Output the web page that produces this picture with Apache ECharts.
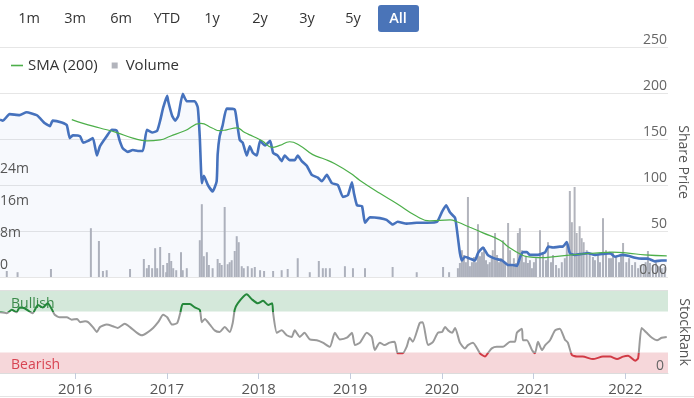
<!DOCTYPE html>
<html>
<head>
<meta charset="utf-8">
<script src="https://cdn.jsdelivr.net/npm/echarts@6/dist/echarts.min.js"></script>
<style>
  html, body { margin: 0; padding: 0; background: #fff; }
  #chart { width: 694px; height: 398px; }
</style>
</head>
<body>
<div id="chart"></div>
<script>
// share price (close)
var priceData = [
  ['2015-03-08', 171], ['2015-03-20', 170], ['2015-04-15', 177], ['2015-05-25', 176],
  ['2015-06-22', 179], ['2015-08-01', 176], ['2015-08-13', 173], ['2015-09-03', 167],
  ['2015-09-23', 164], ['2015-10-04', 170], ['2015-11-09', 168], ['2015-11-29', 165],
  ['2015-12-11', 151], ['2015-12-23', 154], ['2016-01-21', 153], ['2016-02-02', 146],
  ['2016-02-22', 148], ['2016-03-12', 151], ['2016-03-28', 132], ['2016-04-09', 142],
  ['2016-05-06', 153], ['2016-05-26', 160], ['2016-06-15', 159], ['2016-06-27', 148],
  ['2016-07-09', 140], ['2016-07-29', 136], ['2016-08-18', 138], ['2016-09-07', 137],
  ['2016-09-27', 137], ['2016-10-13', 160], ['2016-11-03', 157], ['2016-11-23', 159],
  ['2016-12-05', 170], ['2016-12-17', 184], ['2017-01-02', 197], ['2017-01-06', 191],
  ['2017-01-22', 175], ['2017-02-03', 170], ['2017-02-15', 175], ['2017-03-05', 199],
  ['2017-03-21', 191], ['2017-04-22', 191], ['2017-05-04', 184], ['2017-05-12', 151],
  ['2017-05-20', 102], ['2017-05-28', 110], ['2017-06-13', 100], ['2017-07-02', 93],
  ['2017-07-18', 104], ['2017-07-22', 133], ['2017-07-30', 153], ['2017-08-11', 165],
  ['2017-08-27', 183], ['2017-09-28', 182], ['2017-10-06', 170], ['2017-10-18', 149],
  ['2017-10-30', 146], ['2017-11-15', 132], ['2017-11-27', 142], ['2017-12-09', 135],
  ['2017-12-25', 132], ['2018-01-07', 148], ['2018-01-27', 143], ['2018-02-16', 148],
  ['2018-02-28', 135], ['2018-03-18', 132], ['2018-04-03', 126], ['2018-04-15', 132],
  ['2018-05-05', 127], ['2018-05-25', 127], ['2018-06-06', 132], ['2018-06-22', 126],
  ['2018-07-12', 121], ['2018-08-01', 111], ['2018-08-25', 108], ['2018-09-10', 104],
  ['2018-09-30', 111], ['2018-10-20', 102], ['2018-11-13', 100], ['2018-12-03', 87],
  ['2018-12-23', 89], ['2019-01-08', 103], ['2019-01-16', 91], ['2019-01-28', 78],
  ['2019-02-17', 77], ['2019-03-01', 59], ['2019-03-21', 65], ['2019-04-29', 64],
  ['2019-05-26', 62], ['2019-06-19', 57], ['2019-07-09', 60], ['2019-08-14', 58],
  ['2019-09-23', 59], ['2019-11-03', 59], ['2019-12-13', 60], ['2020-01-02', 71],
  ['2020-01-18', 78], ['2020-02-03', 70], ['2020-02-23', 64], ['2020-03-05', 43],
  ['2020-03-13', 26], ['2020-03-21', 18], ['2020-04-02', 22], ['2020-04-22', 20],
  ['2020-05-12', 18], ['2020-05-24', 26], ['2020-06-13', 32], ['2020-07-02', 24],
  ['2020-07-31', 20], ['2020-08-28', 18], ['2020-09-21', 13], ['2020-10-10', 13],
  ['2020-10-26', 12], ['2020-11-07', 21], ['2020-11-19', 27], ['2020-12-05', 27],
  ['2020-12-17', 24], ['2021-01-18', 24], ['2021-02-16', 27], ['2021-02-28', 33],
  ['2021-03-19', 32], ['2021-04-15', 33], ['2021-04-27', 33], ['2021-05-13', 38],
  ['2021-05-25', 26], ['2021-06-13', 24], ['2021-07-11', 25], ['2021-08-05', 26],
  ['2021-09-02', 24], ['2021-09-30', 25], ['2021-11-01', 26], ['2021-11-21', 22],
  ['2021-12-19', 24], ['2022-01-12', 23], ['2022-02-09', 21], ['2022-03-07', 20],
  ['2022-04-01', 20], ['2022-04-29', 17], ['2022-05-26', 18], ['2022-06-15', 18]
];

// 200 day simple moving average
var smaData = [
  ['2015-12-19', 171], ['2016-02-02', 167], ['2016-04-09', 162], ['2016-06-15', 157],
  ['2016-08-18', 151], ['2016-10-13', 148], ['2016-12-05', 149], ['2017-01-14', 153],
  ['2017-03-13', 159], ['2017-05-16', 167], ['2017-06-30', 162], ['2017-07-30', 159],
  ['2017-08-27', 160], ['2017-10-06', 162], ['2017-11-07', 157], ['2017-12-09', 153],
  ['2018-01-15', 148], ['2018-02-24', 141], ['2018-03-26', 143], ['2018-05-05', 147],
  ['2018-06-14', 143], ['2018-08-05', 133], ['2018-09-22', 128], ['2018-11-01', 123],
  ['2019-01-01', 113], ['2019-02-09', 105], ['2019-04-29', 91], ['2019-07-05', 80],
  ['2019-09-23', 66], ['2019-11-14', 61], ['2020-02-03', 62], ['2020-03-01', 60],
  ['2020-04-22', 54], ['2020-06-13', 48], ['2020-08-20', 40], ['2020-09-21', 33],
  ['2020-11-15', 24], ['2020-12-09', 22], ['2021-01-18', 21], ['2021-04-23', 23],
  ['2021-07-11', 25], ['2021-09-02', 26], ['2021-11-09', 27], ['2022-01-12', 26],
  ['2022-03-19', 24], ['2022-06-15', 23]
];

// volume, millions
var volumeData = [
  ['2015-04-04', 1.5], ['2015-05-17', 1.2], ['2015-09-27', 2.0], ['2016-03-04', 12.2],
  ['2016-04-05', 9.0], ['2016-04-21', 1.5], ['2016-05-06', 1.7], ['2016-08-07', 2.0],
  ['2016-10-01', 4.5], ['2016-10-13', 2.2], ['2016-10-21', 3.0], ['2016-11-03', 2.2],
  ['2016-11-15', 7.2], ['2016-11-23', 2.2], ['2016-12-05', 7.5], ['2016-12-17', 3.0],
  ['2016-12-29', 1.2], ['2017-01-02', 3.5], ['2017-01-10', 6.0], ['2017-01-18', 4.0],
  ['2017-01-26', 2.2], ['2017-02-07', 1.7], ['2017-02-26', 6.2], ['2017-03-05', 1.7],
  ['2017-03-21', 2.2], ['2017-05-12', 9.2], ['2017-05-20', 18.2], ['2017-05-28', 5.2],
  ['2017-06-09', 6.2], ['2017-06-17', 3.0], ['2017-07-02', 2.2], ['2017-07-22', 4.5],
  ['2017-07-30', 3.5], ['2017-08-07', 3.0], ['2017-08-19', 17.5], ['2017-08-31', 3.2],
  ['2017-09-08', 3.7], ['2017-09-16', 4.2], ['2017-09-28', 6.5], ['2017-10-06', 10.2],
  ['2017-10-14', 8.7], ['2017-10-26', 2.7], ['2017-11-03', 2.2], ['2017-11-19', 2.7],
  ['2017-12-05', 2.2], ['2017-12-17', 2.5], ['2018-01-07', 1.7], ['2018-01-23', 1.5],
  ['2018-02-28', 1.5], ['2018-04-03', 1.7], ['2018-04-27', 2.0], ['2018-06-06', 4.7],
  ['2018-07-24', 1.2], ['2018-08-29', 4.0], ['2018-09-14', 2.2], ['2018-09-26', 2.2],
  ['2018-10-12', 2.2], ['2018-12-11', 2.7], ['2019-01-12', 2.2], ['2019-03-01', 2.2],
  ['2019-06-19', 2.5], ['2019-09-23', 1.2], ['2020-01-06', 2.5], ['2020-01-30', 1.2],
  ['2020-03-05', 2.2], ['2020-03-13', 3.5], ['2020-03-21', 6.7], ['2020-03-29', 5.5],
  ['2020-04-06', 3.7], ['2020-04-14', 20.0], ['2020-04-22', 2.7], ['2020-04-30', 3.7],
  ['2020-05-08', 5.0], ['2020-05-16', 3.7], ['2020-05-24', 13.2], ['2020-06-01', 5.2],
  ['2020-06-09', 6.2], ['2020-06-17', 7.5], ['2020-06-25', 4.2], ['2020-07-02', 3.2],
  ['2020-07-10', 3.7], ['2020-07-18', 4.7], ['2020-07-22', 6.7], ['2020-07-31', 11.0],
  ['2020-08-08', 5.5], ['2020-08-16', 3.7], ['2020-08-24', 4.7], ['2020-09-01', 9.2],
  ['2020-09-09', 3.7], ['2020-09-21', 13.5], ['2020-09-29', 6.7], ['2020-10-06', 3.0],
  ['2020-10-14', 4.7], ['2020-10-22', 3.5], ['2020-10-30', 11.0], ['2020-11-07', 12.2],
  ['2020-11-15', 6.7], ['2020-11-23', 3.7], ['2020-12-01', 5.2], ['2020-12-09', 3.5],
  ['2020-12-17', 4.2], ['2020-12-25', 2.2], ['2021-01-02', 3.7], ['2021-01-10', 4.7],
  ['2021-01-26', 11.7], ['2021-02-07', 6.0], ['2021-02-19', 4.2], ['2021-02-27', 8.7],
  ['2021-03-11', 3.7], ['2021-03-19', 5.5], ['2021-03-31', 3.0], ['2021-04-11', 2.2],
  ['2021-04-23', 3.7], ['2021-05-05', 4.7], ['2021-05-13', 8.0], ['2021-05-25', 21.5],
  ['2021-06-02', 13.7], ['2021-06-13', 22.5], ['2021-06-21', 11.0], ['2021-06-29', 5.5],
  ['2021-07-03', 12.7], ['2021-07-11', 9.7], ['2021-07-19', 8.7], ['2021-07-31', 6.7],
  ['2021-08-12', 6.0], ['2021-08-25', 5.0], ['2021-09-02', 4.2], ['2021-09-14', 5.5],
  ['2021-09-22', 3.7], ['2021-10-04', 14.7], ['2021-10-16', 6.7], ['2021-10-28', 4.7],
  ['2021-11-05', 4.7], ['2021-11-13', 6.2], ['2021-11-25', 5.0], ['2021-12-07', 3.7],
  ['2021-12-15', 5.5], ['2021-12-23', 8.5], ['2022-01-05', 3.7], ['2022-01-16', 4.7],
  ['2022-01-28', 3.0], ['2022-02-09', 3.7], ['2022-02-21', 2.2], ['2022-03-03', 3.0],
  ['2022-03-15', 3.2], ['2022-03-23', 3.7], ['2022-04-01', 6.5], ['2022-04-09', 3.5],
  ['2022-04-21', 3.0], ['2022-05-03', 3.7], ['2022-05-15', 2.7], ['2022-05-26', 2.2],
  ['2022-06-07', 2.5]
];

// StockRank 0-100
var rankData = [
  ['2015-03-08', 74], ['2015-04-04', 73], ['2015-04-24', 77], ['2015-05-13', 74],
  ['2015-05-25', 80], ['2015-06-14', 79], ['2015-07-16', 73], ['2015-08-06', 83],
  ['2015-08-25', 80], ['2015-09-14', 85], ['2015-09-30', 78], ['2015-10-12', 71],
  ['2015-11-01', 68], ['2015-11-29', 68], ['2015-12-19', 65], ['2016-01-09', 66],
  ['2016-01-21', 62], ['2016-02-10', 63], ['2016-02-22', 62], ['2016-03-12', 56],
  ['2016-03-28', 50], ['2016-04-09', 56], ['2016-05-06', 59], ['2016-05-31', 57],
  ['2016-06-19', 55], ['2016-07-17', 60], ['2016-08-07', 56], ['2016-09-04', 49],
  ['2016-09-23', 46], ['2016-10-13', 49], ['2016-11-07', 55], ['2016-11-27', 62],
  ['2016-12-17', 71], ['2017-01-02', 68], ['2017-01-22', 59], ['2017-02-11', 61],
  ['2017-02-23', 73], ['2017-03-05', 84], ['2017-04-02', 84], ['2017-04-22', 80],
  ['2017-05-12', 77], ['2017-05-20', 62], ['2017-06-01', 66], ['2017-06-21', 59],
  ['2017-07-10', 52], ['2017-07-30', 50], ['2017-08-19', 56], ['2017-09-08', 50],
  ['2017-09-20', 61], ['2017-09-28', 77], ['2017-10-10', 85], ['2017-11-15', 96],
  ['2017-12-05', 90], ['2017-12-29', 85], ['2018-01-19', 88], ['2018-02-08', 83],
  ['2018-02-24', 85], ['2018-02-28', 73], ['2018-03-15', 49], ['2018-04-03', 52],
  ['2018-04-23', 46], ['2018-05-13', 44], ['2018-05-25', 52], ['2018-06-14', 44],
  ['2018-07-03', 49], ['2018-07-24', 41], ['2018-08-21', 40], ['2018-09-14', 37],
  ['2018-10-12', 32], ['2018-11-01', 49], ['2018-11-21', 41], ['2018-12-19', 43],
  ['2019-01-08', 49], ['2019-01-20', 34], ['2019-02-09', 37], ['2019-03-08', 49],
  ['2019-03-28', 44], ['2019-04-09', 28], ['2019-04-29', 37], ['2019-05-18', 34],
  ['2019-06-07', 37], ['2019-06-27', 38], ['2019-07-09', 24], ['2019-07-29', 24],
  ['2019-08-14', 32], ['2019-08-26', 43], ['2019-09-07', 38], ['2019-10-05', 61],
  ['2019-10-17', 62], ['2019-11-07', 34], ['2019-11-27', 38], ['2019-12-16', 49],
  ['2020-01-02', 50], ['2020-01-14', 56], ['2020-01-26', 52], ['2020-02-11', 49],
  ['2020-02-23', 55], ['2020-03-13', 37], ['2020-04-02', 30], ['2020-04-14', 34],
  ['2020-05-04', 37], ['2020-06-01', 24], ['2020-06-21', 20], ['2020-07-02', 24],
  ['2020-07-18', 30], ['2020-08-07', 32], ['2020-09-01', 32], ['2020-09-29', 38],
  ['2020-10-18', 38], ['2020-10-26', 49], ['2020-11-15', 54], ['2020-11-19', 40],
  ['2020-12-05', 40], ['2020-12-25', 28], ['2021-01-06', 24], ['2021-01-18', 38],
  ['2021-02-03', 28], ['2021-02-16', 34], ['2021-03-07', 40], ['2021-03-27', 52],
  ['2021-04-15', 54], ['2021-05-05', 41], ['2021-05-17', 37], ['2021-06-02', 22],
  ['2021-06-22', 20], ['2021-07-15', 20], ['2021-08-25', 17], ['2021-10-04', 20],
  ['2021-11-01', 20], ['2021-11-29', 17], ['2021-12-23', 20], ['2022-01-12', 21],
  ['2022-02-09', 15], ['2022-02-21', 18], ['2022-03-07', 55], ['2022-03-27', 49],
  ['2022-04-17', 43], ['2022-05-07', 40], ['2022-05-26', 43], ['2022-06-15', 44]
];

var yearTicks = [2016, 2017, 2018, 2019, 2020, 2021, 2022];
var rangeButtons = ['1m', '3m', '6m', 'YTD', '1y', '2y', '3y', '5y', 'All'];
var buttonCenters = [29, 75, 121, 167, 212, 260, 307, 353, 398];

var font = '"Open Sans", "Noto Sans", sans-serif';

function ts(s) {
  var p = s.split('-');
  return +new Date(+p[0], +p[1] - 1, +p[2]);
}
function toSeries(arr) {
  return arr.map(function (d) { return [ts(d[0]), d[1]]; });
}
var xMin = ts('2015-03-08');
var xMax = ts('2022-06-20');
var yearValues = yearTicks.map(function (y) { return +new Date(y, 0, 1); });

var chart = echarts.init(document.getElementById('chart'));

// range selector as plain graphics
var buttons = rangeButtons.map(function (t, i) {
  var active = t === 'All';
  var els = [];
  if (active) {
    els.push({
      type: 'rect',
      shape: { x: buttonCenters[i] - 20, y: 5, width: 41, height: 27, r: 3 },
      style: { fill: '#4a74b8' }
    });
  }
  els.push({
    type: 'text',
    style: {
      x: buttonCenters[i], y: 18.5, text: t,
      fill: active ? '#fff' : '#333',
      font: (active ? '600 ' : '') + '14.5px ' + font,
      align: 'center', verticalAlign: 'middle'
    }
  });
  return { type: 'group', children: els };
});

var priceLabel = function (v) { return v === 0 ? '0.00' : String(v); };

var option = {
  animation: false,
  textStyle: { fontFamily: font },
  grid: [
    { left: 0, right: 26, top: 47, height: 230, outerBoundsMode: 'none' },
    { left: 0, right: 26, top: 291, height: 82, outerBoundsMode: 'none' }
  ],
  legend: {
    left: 6, top: 53,
    itemWidth: 12, itemHeight: 6, itemGap: 14,
    textStyle: { fontSize: 15, color: '#333', fontFamily: font },
    data: [
      { name: 'SMA (200)', icon: 'path://M0,0 L12,0 L12,1.6 L0,1.6 Z' },
      { name: 'Volume', icon: 'path://M0,0 L6,0 L6,6 L0,6 Z' }
    ],
    selectedMode: false
  },
  xAxis: [
    {
      type: 'value', gridIndex: 0, min: xMin, max: xMax,
      axisLine: { show: false }, axisTick: { show: false },
      axisLabel: { show: false }, splitLine: { show: false }
    },
    {
      type: 'value', gridIndex: 1, min: xMin, max: xMax,
      axisLine: { show: true, onZero: false, lineStyle: { color: '#dcdcdc' } },
      axisTick: { show: true, length: 6, customValues: yearValues, lineStyle: { color: '#c4ccdc' } },
      axisLabel: {
        customValues: yearValues, margin: 9,
        color: '#555', fontSize: 15, fontFamily: font,
        formatter: function (v) { return String(new Date(v).getFullYear()); }
      },
      splitLine: { show: false }
    }
  ],
  yAxis: [
    {
      // price scale with gridlines, drawn under the series
      type: 'value', gridIndex: 0, position: 'right', min: 0, max: 250, interval: 50,
      name: 'Share Price', nameLocation: 'middle', nameRotate: -90, nameGap: 8,
      nameTextStyle: { color: '#555', fontSize: 14, fontFamily: font },
      axisLine: { show: false }, axisTick: { show: false },
      axisLabel: { show: false },
      splitLine: { lineStyle: { color: '#e6e6e6' } }
    },
    {
      type: 'value', gridIndex: 0, position: 'left', min: 0, max: 57.5, interval: 8, z: 10,
      axisLine: { show: false }, axisTick: { show: false },
      axisLabel: {
        inside: true, margin: 0, color: '#555', fontSize: 14, fontFamily: font,
        verticalAlign: 'bottom', padding: [0, 0, 5, 0], showMaxLabel: false,
        formatter: function (v) { return v === 0 ? '0' : (v <= 24 ? v + 'm' : ''); }
      },
      splitLine: { show: false }
    },
    {
      type: 'value', gridIndex: 1, position: 'right', min: 0, max: 100, interval: 100, z: 10,
      name: 'StockRank', nameLocation: 'middle', nameRotate: -90, nameGap: 8,
      nameTextStyle: { color: '#555', fontSize: 14, fontFamily: font },
      axisLine: { show: false }, axisTick: { show: false },
      axisLabel: {
        inside: true, margin: 4, color: '#666', fontSize: 14, fontFamily: font,
        verticalAlign: 'bottom', lineHeight: 14,
        formatter: function (v) { return v === 0 ? '0' : ''; }
      },
      splitLine: { show: false }
    },
    {
      // price labels, drawn above the bars
      type: 'value', gridIndex: 0, position: 'right', min: 0, max: 250, interval: 50, z: 10,
      axisLine: { show: false }, axisTick: { show: false },
      axisLabel: {
        inside: true, margin: 1, color: '#666', fontSize: 14, fontFamily: font,
        verticalAlign: 'bottom', lineHeight: 14,
        formatter: priceLabel
      },
      splitLine: { show: false }
    }
  ],
  visualMap: {
    show: false, type: 'piecewise', seriesIndex: 3, dimension: 1,
    pieces: [
      { lt: 25, color: '#d13a45' },
      { gte: 25, lte: 75, color: '#9a9a9a' },
      { gt: 75, color: '#24873a' }
    ]
  },
  series: [
    {
      name: 'Volume', type: 'bar', xAxisIndex: 0, yAxisIndex: 1,
      data: toSeries(volumeData), barWidth: 2, barGap: '-100%',
      itemStyle: { color: '#b2b4bc' }, z: 1
    },
    {
      name: 'Price', type: 'line', xAxisIndex: 0, yAxisIndex: 0,
      data: toSeries(priceData), symbol: 'none', smooth: 0.15,
      lineStyle: { color: '#4672bd', width: 2.6 },
      areaStyle: { color: 'rgba(70,110,200,0.06)', origin: 'start' }, z: 2
    },
    {
      name: 'SMA (200)', type: 'line', xAxisIndex: 0, yAxisIndex: 0,
      data: toSeries(smaData), symbol: 'none', smooth: true,
      lineStyle: { color: '#4daf4a', width: 1.2 }, itemStyle: { color: '#4daf4a' }, z: 3
    },
    {
      name: 'StockRank', type: 'line', xAxisIndex: 1, yAxisIndex: 2,
      data: toSeries(rankData), symbol: 'none', smooth: 0.2,
      lineStyle: { width: 2 }, z: 3,
      markArea: {
        silent: true,
        data: [
          [
            { yAxis: 75, itemStyle: { color: '#d4e8da' },
              label: { show: true, position: 'insideLeft', formatter: 'Bullish', color: '#3b8a4b',
                       fontSize: 14, fontFamily: font, offset: [6, 3] } },
            { yAxis: 100 }
          ],
          [
            { yAxis: 0, itemStyle: { color: '#f6d7da' },
              label: { show: true, position: 'insideLeft', formatter: 'Bearish', color: '#d84452',
                       fontSize: 14, fontFamily: font, offset: [6, 2] } },
            { yAxis: 25 }
          ]
        ]
      }
    }
  ],
  graphic: buttons.concat([
    { type: 'rect', shape: { x: 0, y: 290, width: 668, height: 1 }, style: { fill: '#e0e0e0' } },
    { type: 'rect', shape: { x: 0, y: 396, width: 694, height: 1 }, style: { fill: '#e4e4e4' } }
  ])
};

chart.setOption(option);
</script>
</body>
</html>
